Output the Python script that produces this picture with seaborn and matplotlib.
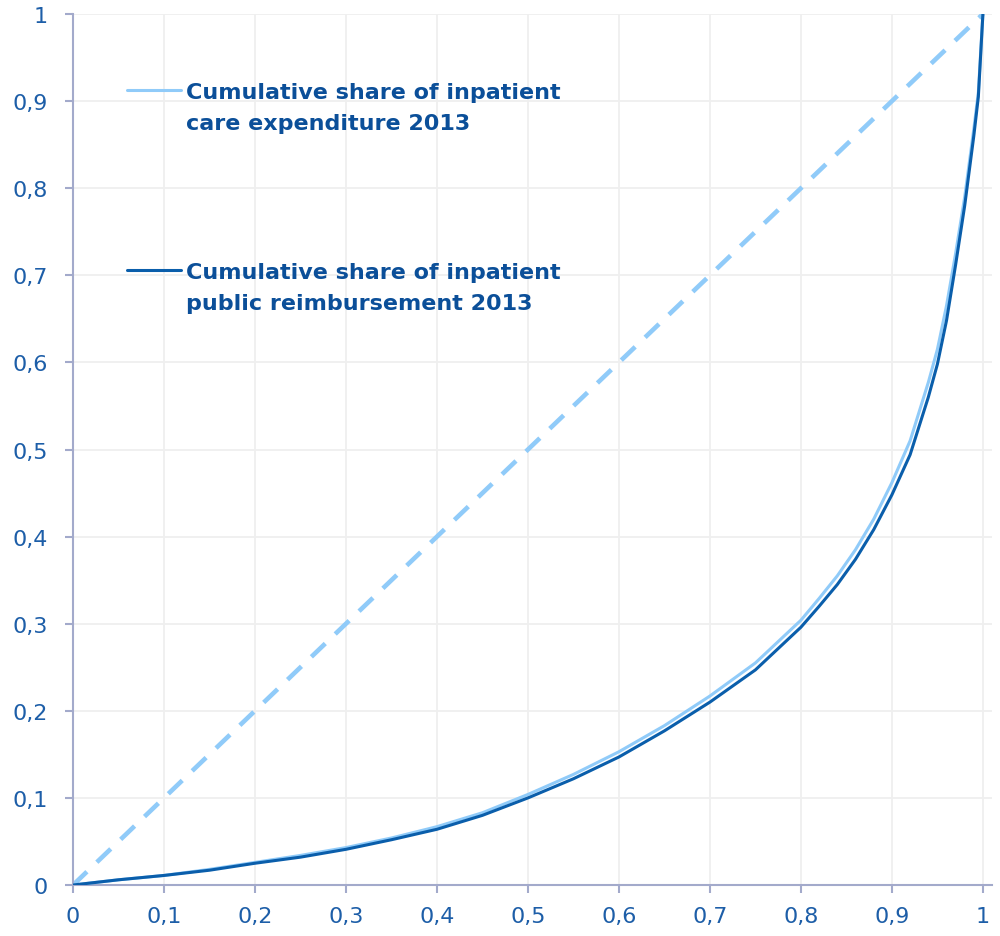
import numpy as np
import pandas as pd
import seaborn as sns
import matplotlib.pyplot as plt
from matplotlib.ticker import FuncFormatter, MultipleLocator

# population share (x) and cumulative shares (y)
pop_share = [0, 0.05, 0.1, 0.15, 0.2, 0.25, 0.3, 0.35, 0.4, 0.45, 0.5, 0.55, 0.6, 0.65,
             0.7, 0.75, 0.8, 0.82, 0.84, 0.86, 0.88, 0.9, 0.92, 0.94, 0.95, 0.96, 0.97,
             0.98, 0.99, 0.995, 1.0]
expenditure = [0, 0.006, 0.011, 0.018, 0.026, 0.034, 0.043, 0.054, 0.067, 0.083, 0.104,
               0.127, 0.153, 0.183, 0.217, 0.255, 0.304, 0.329, 0.355, 0.385, 0.42,
               0.462, 0.51, 0.577, 0.615, 0.665, 0.725, 0.79, 0.868, 0.91, 1.0]
reimbursement = [0, 0.006, 0.011, 0.017, 0.025, 0.032, 0.041, 0.052, 0.064, 0.08, 0.10,
                 0.122, 0.147, 0.177, 0.21, 0.247, 0.296, 0.32, 0.345, 0.374, 0.408,
                 0.448, 0.494, 0.56, 0.598, 0.648, 0.712, 0.78, 0.86, 0.905, 1.0]
equality_x = [0, 1]
equality_y = [0, 1]

labels = ["Cumulative share of inpatient\ncare expenditure 2013",
          "Cumulative share of inpatient\npublic reimbursement 2013"]
colors = ["#90cbf9", "#0a5eab"]

df = pd.concat([
    pd.DataFrame({"x": pop_share, "y": expenditure, "series": labels[0]}),
    pd.DataFrame({"x": pop_share, "y": reimbursement, "series": labels[1]}),
])

sns.set_style("white")
plt.rcParams["font.family"] = ["DejaVu Sans"]

fig = plt.figure(figsize=(10, 9.37), dpi=100)
ax = fig.add_axes([0.073, 0.0544, 0.919, 0.9296])

sns.lineplot(x=equality_x, y=equality_y, ax=ax, color="#90cbf9", linewidth=3.3,
             linestyle="--", legend=False, zorder=2)
ax.lines[-1].set_dashes((4.2, 3.0))
sns.lineplot(data=df, x="x", y="y", hue="series", palette=colors, linewidth=2.2,
             ax=ax, legend=False, sort=False, zorder=3)

ax.set_xlim(0, 1.01)
ax.set_ylim(0, 1)
ax.xaxis.set_major_locator(MultipleLocator(0.1))
ax.yaxis.set_major_locator(MultipleLocator(0.1))
fmt = FuncFormatter(lambda v, p: f"{v:.1f}".rstrip("0").rstrip(".").replace(".", ",") if v else "0")
ax.xaxis.set_major_formatter(fmt)
ax.yaxis.set_major_formatter(fmt)

ax.grid(True, color="#efefef", linewidth=1.3)
ax.set_axisbelow(True)
for s in ["top", "right"]:
    ax.spines[s].set_visible(False)
for s in ["left", "bottom"]:
    ax.spines[s].set_color("#a3aacb")
    ax.spines[s].set_linewidth(1.5)
ax.tick_params(axis="both", bottom=True, left=True, colors="#a3aacb", width=1.5,
               length=6, labelsize=16, labelcolor="#1d5ea8")
ax.tick_params(axis="y", pad=12)
ax.tick_params(axis="x", pad=9)
ax.set_xlabel("")
ax.set_ylabel("")

handles = ax.lines[1:3]
leg = ax.legend(handles, labels, loc="upper left", bbox_to_anchor=(0.059, 0.922),
                frameon=False, fontsize=16, handlelength=2.4, handletextpad=0.25,
                labelspacing=5.8, borderpad=0, borderaxespad=0)
for t in leg.get_texts():
    t.set_color("#0b4f99")
    t.set_fontweight("bold")
    t.set_linespacing(1.7)
for col in leg._legend_handle_box.get_children():
    for row in col.get_children():
        row.align = "top"

fig.savefig("out.png", dpi=100)
